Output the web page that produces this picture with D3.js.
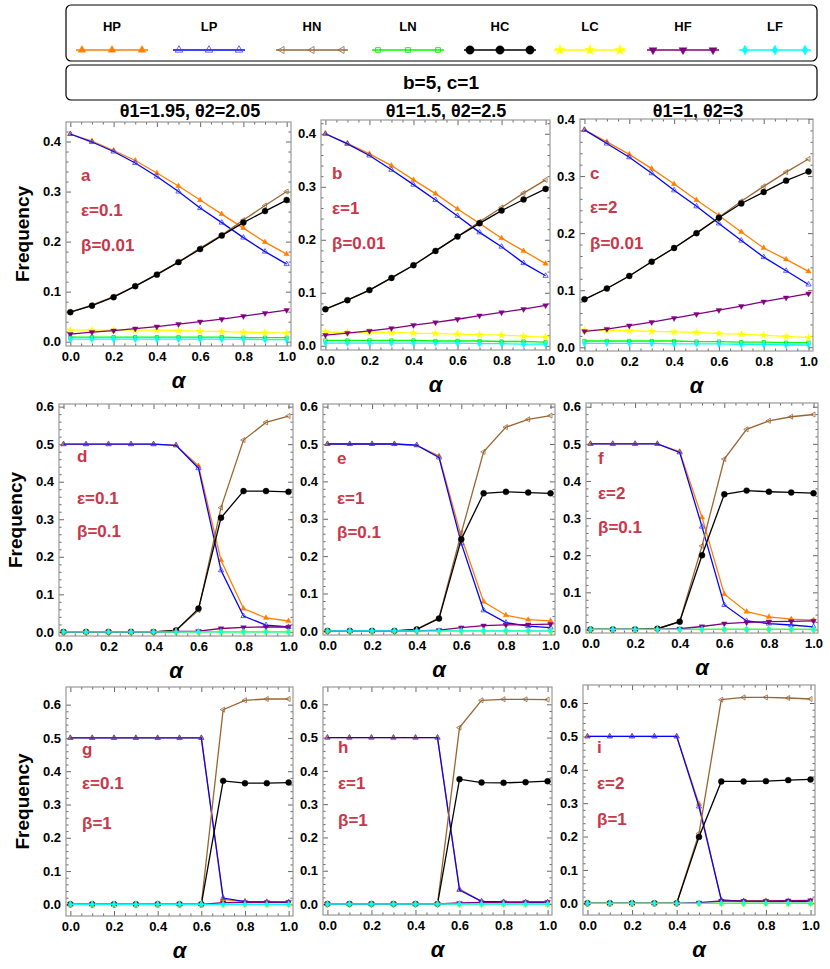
<!DOCTYPE html>
<html>
<head>
<meta charset="utf-8">
<script src="https://cdn.jsdelivr.net/npm/d3@7"></script>
<style>
  body { margin: 0; background: #fff; }
  svg { display: block; }
  .tick text { font-family: "Liberation Sans", Arial, sans-serif; font-weight: bold; font-size: 13px; fill: #000; }
  .tick line { stroke: #666; }
</style>
</head>
<body>
<svg id="chart" width="830" height="969"></svg>
<script>
// ---- data ----
const alphaValues = [0, 0.1, 0.2, 0.3, 0.4, 0.5, 0.6, 0.7, 0.8, 0.9, 1.0];
const seriesNames = ['HP', 'LP', 'HN', 'LN', 'HC', 'LC', 'HF', 'LF'];
const columnTitles = ['θ1=1.95, θ2=2.05', 'θ1=1.5, θ2=2.5', 'θ1=1, θ2=3'];
const panelLetters = ['a', 'b', 'c', 'd', 'e', 'f', 'g', 'h', 'i'];
const epsilonLabels = ['ε=0.1', 'ε=1', 'ε=2'];
const betaLabels = ['β=0.01', 'β=0.1', 'β=1'];
const paramLabel = 'b=5, c=1';
const xTicks = [0, 0.2, 0.4, 0.6, 0.8, 1.0];
const yTicksTop = [0, 0.1, 0.2, 0.3, 0.4];
const yTicksLower = [0, 0.1, 0.2, 0.3, 0.4, 0.5, 0.6];

// rows: HP, LP, HN, LN, HC, LC, HF, LF
const panelA = [
  [0.415, 0.401, 0.382, 0.362, 0.337, 0.311, 0.283, 0.255, 0.227, 0.199, 0.175],
  [0.415, 0.399, 0.380, 0.357, 0.330, 0.300, 0.267, 0.238, 0.208, 0.180, 0.155],
  [0.059, 0.073, 0.090, 0.111, 0.135, 0.159, 0.187, 0.213, 0.243, 0.272, 0.300],
  [0.009, 0.009, 0.009, 0.009, 0.009, 0.009, 0.009, 0.009, 0.008, 0.008, 0.008],
  [0.059, 0.072, 0.089, 0.111, 0.134, 0.159, 0.185, 0.212, 0.238, 0.261, 0.283],
  [0.023, 0.023, 0.023, 0.023, 0.023, 0.022, 0.021, 0.020, 0.019, 0.018, 0.017],
  [0.015, 0.019, 0.022, 0.026, 0.030, 0.035, 0.040, 0.045, 0.051, 0.057, 0.063],
  [0.005, 0.005, 0.005, 0.005, 0.005, 0.005, 0.005, 0.005, 0.005, 0.004, 0.004]
];
const panelB = [
  [0.400, 0.382, 0.362, 0.340, 0.313, 0.287, 0.258, 0.231, 0.203, 0.179, 0.155],
  [0.400, 0.381, 0.359, 0.332, 0.304, 0.275, 0.245, 0.214, 0.187, 0.156, 0.132],
  [0.069, 0.086, 0.105, 0.128, 0.152, 0.179, 0.206, 0.234, 0.261, 0.288, 0.313],
  [0.010, 0.010, 0.010, 0.010, 0.010, 0.009, 0.009, 0.009, 0.008, 0.008, 0.007],
  [0.069, 0.086, 0.105, 0.128, 0.152, 0.179, 0.206, 0.231, 0.255, 0.276, 0.296],
  [0.026, 0.025, 0.025, 0.025, 0.024, 0.023, 0.022, 0.021, 0.020, 0.018, 0.016],
  [0.020, 0.024, 0.028, 0.033, 0.039, 0.044, 0.050, 0.057, 0.063, 0.069, 0.076],
  [0.005, 0.005, 0.005, 0.005, 0.005, 0.005, 0.005, 0.004, 0.004, 0.003, 0.003]
];
const panelC = [
  [0.381, 0.360, 0.338, 0.313, 0.286, 0.258, 0.231, 0.202, 0.174, 0.154, 0.133],
  [0.381, 0.357, 0.333, 0.305, 0.275, 0.247, 0.217, 0.187, 0.158, 0.134, 0.110],
  [0.084, 0.103, 0.125, 0.150, 0.174, 0.200, 0.228, 0.256, 0.282, 0.307, 0.330],
  [0.011, 0.011, 0.011, 0.011, 0.011, 0.010, 0.010, 0.009, 0.009, 0.008, 0.008],
  [0.084, 0.103, 0.125, 0.150, 0.174, 0.200, 0.227, 0.252, 0.272, 0.292, 0.308],
  [0.030, 0.030, 0.029, 0.028, 0.027, 0.026, 0.024, 0.023, 0.021, 0.019, 0.017],
  [0.028, 0.032, 0.038, 0.044, 0.051, 0.058, 0.065, 0.072, 0.080, 0.087, 0.094],
  [0.007, 0.007, 0.007, 0.007, 0.006, 0.006, 0.006, 0.005, 0.005, 0.004, 0.004]
];
const panelD = [
  [0.500, 0.500, 0.500, 0.500, 0.500, 0.497, 0.442, 0.191, 0.062, 0.037, 0.029],
  [0.500, 0.500, 0.500, 0.500, 0.500, 0.497, 0.436, 0.164, 0.042, 0.018, 0.013],
  [0.000, 0.000, 0.000, 0.000, 0.000, 0.004, 0.058, 0.331, 0.511, 0.558, 0.575],
  [0.000, 0.000, 0.000, 0.000, 0.000, 0.000, 0.000, 0.000, 0.000, 0.000, 0.000],
  [0.000, 0.000, 0.000, 0.000, 0.000, 0.004, 0.062, 0.304, 0.375, 0.375, 0.373],
  [0.000, 0.000, 0.000, 0.000, 0.000, 0.000, 0.000, 0.000, 0.000, 0.000, 0.000],
  [0.000, 0.000, 0.000, 0.000, 0.000, 0.001, 0.002, 0.009, 0.012, 0.013, 0.013],
  [0.000, 0.000, 0.000, 0.000, 0.000, 0.000, 0.000, 0.000, 0.000, 0.000, 0.000]
];
const panelE = [
  [0.500, 0.500, 0.500, 0.500, 0.496, 0.468, 0.252, 0.078, 0.042, 0.030, 0.027],
  [0.500, 0.500, 0.500, 0.500, 0.497, 0.464, 0.234, 0.055, 0.022, 0.013, 0.009],
  [0.000, 0.000, 0.000, 0.000, 0.004, 0.035, 0.262, 0.479, 0.545, 0.566, 0.576],
  [0.000, 0.000, 0.000, 0.000, 0.000, 0.000, 0.000, 0.000, 0.000, 0.000, 0.000],
  [0.000, 0.000, 0.000, 0.000, 0.004, 0.033, 0.245, 0.368, 0.372, 0.370, 0.368],
  [0.000, 0.000, 0.000, 0.000, 0.000, 0.000, 0.000, 0.000, 0.000, 0.000, 0.000],
  [0.000, 0.000, 0.000, 0.000, 0.000, 0.002, 0.009, 0.014, 0.016, 0.017, 0.018],
  [0.000, 0.000, 0.000, 0.000, 0.000, 0.000, 0.000, 0.000, 0.000, 0.000, 0.000]
];
const panelF = [
  [0.500, 0.500, 0.500, 0.500, 0.479, 0.302, 0.095, 0.048, 0.034, 0.028, 0.025],
  [0.500, 0.500, 0.500, 0.500, 0.477, 0.277, 0.066, 0.023, 0.016, 0.012, 0.007],
  [0.000, 0.000, 0.000, 0.002, 0.021, 0.225, 0.459, 0.539, 0.562, 0.573, 0.579],
  [0.000, 0.000, 0.000, 0.000, 0.000, 0.000, 0.000, 0.000, 0.000, 0.000, 0.000],
  [0.000, 0.000, 0.000, 0.002, 0.021, 0.200, 0.364, 0.374, 0.371, 0.369, 0.367],
  [0.000, 0.000, 0.000, 0.000, 0.000, 0.000, 0.000, 0.000, 0.000, 0.000, 0.000],
  [0.000, 0.000, 0.000, 0.000, 0.002, 0.008, 0.016, 0.019, 0.021, 0.022, 0.023],
  [0.000, 0.000, 0.000, 0.000, 0.000, 0.000, 0.000, 0.000, 0.000, 0.000, 0.000]
];
const panelG = [
  [0.500, 0.500, 0.500, 0.500, 0.500, 0.500, 0.500, 0.015, 0.008, 0.007, 0.006],
  [0.500, 0.500, 0.500, 0.500, 0.500, 0.500, 0.500, 0.019, 0.008, 0.007, 0.006],
  [0.000, 0.000, 0.000, 0.000, 0.000, 0.000, 0.000, 0.585, 0.613, 0.617, 0.617],
  [0.000, 0.000, 0.000, 0.000, 0.000, 0.000, 0.000, 0.000, 0.000, 0.000, 0.000],
  [0.000, 0.000, 0.000, 0.000, 0.000, 0.000, 0.000, 0.371, 0.364, 0.364, 0.366],
  [0.000, 0.000, 0.000, 0.000, 0.000, 0.000, 0.000, 0.000, 0.000, 0.000, 0.000],
  [0.000, 0.000, 0.000, 0.000, 0.000, 0.000, 0.000, 0.005, 0.006, 0.006, 0.007],
  [0.000, 0.000, 0.000, 0.000, 0.000, 0.000, 0.000, 0.000, 0.000, 0.000, 0.000]
];
const panelH = [
  [0.500, 0.500, 0.500, 0.500, 0.500, 0.500, 0.045, 0.008, 0.006, 0.005, 0.005],
  [0.500, 0.500, 0.500, 0.500, 0.500, 0.500, 0.042, 0.008, 0.006, 0.005, 0.005],
  [0.000, 0.000, 0.000, 0.000, 0.000, 0.000, 0.530, 0.612, 0.615, 0.615, 0.614],
  [0.000, 0.000, 0.000, 0.000, 0.000, 0.000, 0.000, 0.000, 0.000, 0.000, 0.000],
  [0.000, 0.000, 0.000, 0.000, 0.000, 0.000, 0.375, 0.365, 0.364, 0.366, 0.369],
  [0.000, 0.000, 0.000, 0.000, 0.000, 0.000, 0.000, 0.000, 0.000, 0.000, 0.000],
  [0.000, 0.000, 0.000, 0.000, 0.000, 0.000, 0.003, 0.005, 0.005, 0.006, 0.006],
  [0.000, 0.000, 0.000, 0.000, 0.000, 0.000, 0.000, 0.000, 0.000, 0.000, 0.000]
];
const panelI = [
  [0.500, 0.500, 0.500, 0.500, 0.500, 0.298, 0.008, 0.007, 0.007, 0.007, 0.007],
  [0.500, 0.500, 0.500, 0.500, 0.500, 0.290, 0.010, 0.006, 0.005, 0.005, 0.005],
  [0.000, 0.000, 0.000, 0.000, 0.000, 0.209, 0.610, 0.617, 0.617, 0.615, 0.612],
  [0.000, 0.000, 0.000, 0.000, 0.000, 0.000, 0.000, 0.000, 0.000, 0.000, 0.000],
  [0.000, 0.000, 0.000, 0.000, 0.000, 0.199, 0.365, 0.365, 0.366, 0.369, 0.371],
  [0.000, 0.000, 0.000, 0.000, 0.000, 0.000, 0.000, 0.000, 0.000, 0.000, 0.000],
  [0.000, 0.000, 0.000, 0.000, 0.000, 0.002, 0.007, 0.007, 0.007, 0.008, 0.009],
  [0.000, 0.000, 0.000, 0.000, 0.000, 0.000, 0.000, 0.000, 0.000, 0.000, 0.000]
];
const panelData = [panelA, panelB, panelC, panelD, panelE, panelF, panelG, panelH, panelI];

// ---- layout / style ----
// frame box [left, top, right, bottom], y domain, annotation offsets
const panelLayout = [
  { box: [66, 122, 291, 346], y: [-0.0086, 0.439], ax: 15, ay: [59, 94, 129] },
  { box: [321, 120, 550, 350], y: [-0.008, 0.426], ax: 11, ay: [59, 94, 129] },
  { box: [580, 119, 813, 351], y: [-0.0065, 0.4], ax: 10, ay: [60, 94, 130] },
  { box: [59, 404, 293, 636], y: [-0.011, 0.607], ax: 18, ay: [58, 100, 133] },
  { box: [323, 404, 555, 635], y: [-0.011, 0.607], ax: 14, ay: [60, 100, 134] },
  { box: [586, 403, 818, 633], y: [-0.0095, 0.61], ax: 12, ay: [61, 96, 130] },
  { box: [66, 687, 293, 916], y: [-0.035, 0.653], ax: 16, ay: [68, 102, 142] },
  { box: [323, 687, 552, 915], y: [-0.033, 0.652], ax: 15, ay: [66, 102, 139] },
  { box: [583, 685, 815, 915], y: [-0.035, 0.654], ax: 14, ay: [68, 104, 140] }
];
const titleX = [190, 446, 698];

const seriesStyle = {
  HP: { color: '#ff8000', shape: d3.symbolTriangle, fill: true, rot: 0 },
  LP: { color: '#3a3aff', shape: d3.symbolTriangle, fill: false, rot: 0 },
  HN: { color: '#996633', shape: d3.symbolTriangle, fill: false, rot: -90 },
  LN: { color: '#00e000', shape: d3.symbolSquare, fill: false, rot: 0 },
  HC: { color: '#000000', shape: d3.symbolCircle, fill: true, rot: 0 },
  LC: { color: '#ffff00', shape: d3.symbolStar, fill: true, rot: 0 },
  HF: { color: '#800080', shape: d3.symbolTriangle, fill: true, rot: 180 },
  LF: { color: '#00ffff', shape: d3.symbolDiamond, fill: true, rot: 0 }
};
const lineColor = { LP: '#0000ff', LN: '#00ff00' };
const markerSize = { HP: 13, LP: 12, HN: 11, LN: 11, HC: 28, LC: 18, HF: 14, LF: 14 };
const red = '#c8374a';
const sansFont = '"Liberation Sans", Arial, sans-serif';

const svg = d3.select('#chart');

function drawMarkers(g, name, points, sizeScale = 1) {
  const st = seriesStyle[name];
  const sym = d3.symbol().type(st.shape).size(markerSize[name] * sizeScale);
  g.selectAll(null)
    .data(points)
    .enter()
    .append('path')
    .attr('d', sym)
    .attr('transform', d => `translate(${d[0]},${d[1]}) rotate(${st.rot})`)
    .attr('fill', st.fill ? st.color : 'none')
    .attr('stroke', st.color)
    .attr('stroke-width', st.fill ? 0.4 : 0.8);
}

// ---- legend boxes ----
svg.append('rect')
  .attr('x', 66).attr('y', 5).attr('width', 751).attr('height', 56)
  .attr('rx', 5).attr('fill', '#fff').attr('stroke', '#000').attr('stroke-width', 1.2);
svg.append('rect')
  .attr('x', 66).attr('y', 65).attr('width', 751).attr('height', 35)
  .attr('rx', 5).attr('fill', '#fff').attr('stroke', '#000').attr('stroke-width', 1.2);

const legendX = [112, 209, 312, 408, 500, 590, 683, 775];
seriesNames.forEach((name, i) => {
  const cx = legendX[i];
  const lg = svg.append('g');
  lg.append('text')
    .attr('x', cx).attr('y', 31)
    .attr('text-anchor', 'middle')
    .attr('font-family', sansFont).attr('font-weight', 'bold').attr('font-size', 13)
    .text(name);
  lg.append('line')
    .attr('x1', cx - 36).attr('x2', cx + 36)
    .attr('y1', 50).attr('y2', 50)
    .attr('stroke', lineColor[name] || seriesStyle[name].color).attr('stroke-width', 1.6);
  drawMarkers(lg, name, [[cx - 30, 50], [cx, 50], [cx + 30, 50]], 2);
});

svg.append('text')
  .attr('x', 441).attr('y', 89)
  .attr('text-anchor', 'middle')
  .attr('font-family', sansFont).attr('font-weight', 'bold').attr('font-size', 19)
  .text(paramLabel);

// column titles
columnTitles.forEach((t, i) => {
  svg.append('text')
    .attr('x', titleX[i]).attr('y', 117)
    .attr('text-anchor', 'middle')
    .attr('font-family', sansFont).attr('font-weight', 'bold').attr('font-size', 18)
    .text(t);
});

// ---- panels ----
const xMinor = d3.range(0, 1.0001, 0.05).filter(v => Math.round(v * 100) % 20 !== 0);
const yMinor = d3.range(0, 0.6001, 0.02).filter(v => Math.round(v * 100) % 10 !== 0);

panelLayout.forEach((p, idx) => {
  const [left, top, right, bottom] = p.box;
  const row = Math.floor(idx / 3);
  const data = panelData[idx];
  const x = d3.scaleLinear().domain([-0.02, 1.02]).range([left, right]);
  const y = d3.scaleLinear().domain(p.y).range([bottom, top]);
  const yTicks = row === 0 ? yTicksTop : yTicksLower;
  const yMinorTicks = yMinor.filter(v => v < p.y[1]);

  const g = svg.append('g');

  // axes: major and minor ticks on all four sides, pointing inward
  const axes = [
    [d3.axisBottom(x).tickValues(xTicks).tickSize(-5).tickPadding(6).tickFormat(d3.format('.1f')), `translate(0,${bottom})`],
    [d3.axisBottom(x).tickValues(xMinor).tickSize(-2.5).tickFormat(''), `translate(0,${bottom})`],
    [d3.axisTop(x).tickValues(xTicks).tickSize(-5).tickFormat(''), `translate(0,${top})`],
    [d3.axisTop(x).tickValues(xMinor).tickSize(-2.5).tickFormat(''), `translate(0,${top})`],
    [d3.axisLeft(y).tickValues(yTicks).tickSize(-5).tickPadding(5).tickFormat(d3.format('.1f')), `translate(${left},0)`],
    [d3.axisLeft(y).tickValues(yMinorTicks).tickSize(-2.5).tickFormat(''), `translate(${left},0)`],
    [d3.axisRight(y).tickValues(yTicks).tickSize(-5).tickFormat(''), `translate(${right},0)`],
    [d3.axisRight(y).tickValues(yMinorTicks).tickSize(-2.5).tickFormat(''), `translate(${right},0)`]
  ];
  axes.forEach(([axis, tr]) => {
    const ag = g.append('g').attr('transform', tr).call(axis);
    ag.select('.domain').remove();
  });

  g.append('rect')
    .attr('x', left).attr('y', top)
    .attr('width', right - left).attr('height', bottom - top)
    .attr('fill', 'none').attr('stroke', '#999').attr('stroke-width', 1.2);

  // series
  const line = d3.line().x((d, i) => x(alphaValues[i])).y(d => y(d));
  seriesNames.forEach((name, s) => {
    const vals = data[s];
    const sg = g.append('g');
    sg.append('path')
      .datum(vals)
      .attr('d', line)
      .attr('fill', 'none')
      .attr('stroke', lineColor[name] || seriesStyle[name].color)
      .attr('stroke-width', 1.3);
    drawMarkers(sg, name, vals.map((v, i) => [x(alphaValues[i]), y(v)]));
  });

  // annotations
  const ann = [panelLetters[idx], epsilonLabels[idx % 3], betaLabels[row]];
  ann.forEach((t, k) => {
    g.append('text')
      .attr('x', left + p.ax).attr('y', top + p.ay[k])
      .attr('font-family', sansFont).attr('font-weight', 'bold').attr('font-size', 17)
      .attr('fill', red)
      .text(t);
  });

  // alpha axis label
  g.append('text')
    .attr('x', (left + right) / 2).attr('y', bottom + 42)
    .attr('text-anchor', 'middle')
    .attr('font-family', sansFont)
    .attr('font-style', 'italic').attr('font-weight', 'bold').attr('font-size', 22)
    .text('α');

  if (idx % 3 === 0) {
    g.append('text')
      .attr('transform', `translate(${left - 37},${(top + bottom) / 2}) rotate(-90)`)
      .attr('text-anchor', 'middle')
      .attr('font-family', sansFont).attr('font-weight', 'bold').attr('font-size', 19)
      .text('Frequency');
  }
});
</script>
</body>
</html>
